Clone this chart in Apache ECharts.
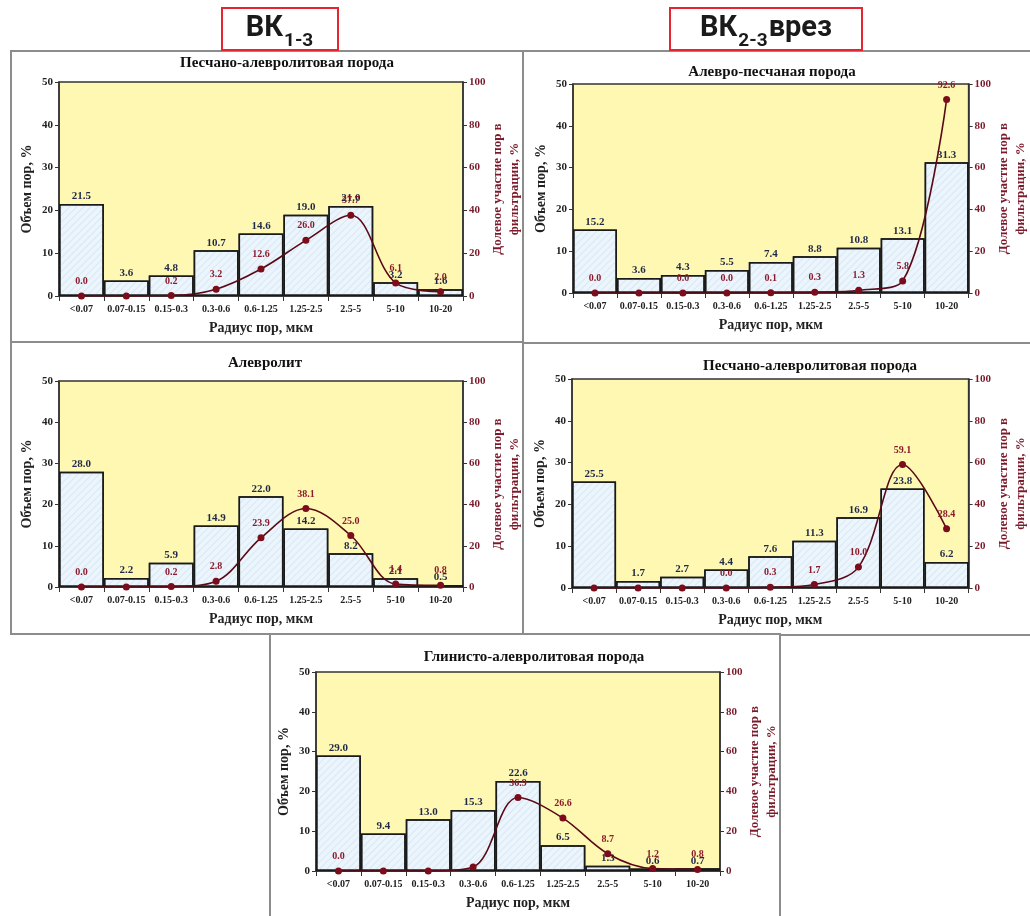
<!DOCTYPE html>
<html>
<head>
<meta charset="utf-8">
<script src="https://cdn.jsdelivr.net/npm/echarts@6/dist/echarts.min.js"></script>
<style>
html,body{margin:0;padding:0;background:#fff;}
#main{width:1030px;height:916px;}
</style>
</head>
<body>
<div id="main"></div>
<script>
// ---------- DATA ----------
const categories = ['<0.07','0.07-0.15','0.15-0.3','0.3-0.6','0.6-1.25','1.25-2.5','2.5-5','5-10','10-20'];

const titles = [
  'Песчано-алевролитовая порода',
  'Алевро-песчаная порода',
  'Алевролит',
  'Песчано-алевролитовая порода',
  'Глинисто-алевролитовая порода'
];

// Объем пор, %
const vol1 = [21.5, 3.6, 4.8, 10.7, 14.6, 19.0, 21.0, 3.2, 1.6];
const vol2 = [15.2, 3.6, 4.3, 5.5, 7.4, 8.8, 10.8, 13.1, 31.3];
const vol3 = [28.0, 2.2, 5.9, 14.9, 22.0, 14.2, 8.2, 2.1, 0.5];
const vol4 = [25.5, 1.7, 2.7, 4.4, 7.6, 11.3, 16.9, 23.8, 6.2];
const vol5 = [29.0, 9.4, 13.0, 15.3, 22.6, 6.5, 1.3, 0.6, 0.7];

// Долевое участие пор в фильтрации, %
const filt1 = [0.0, 0.0, 0.2, 3.2, 12.6, 26.0, 37.7, 6.1, 2.0];
const filt2 = [0.0, 0.0, 0.0, 0.0, 0.1, 0.3, 1.3, 5.8, 92.6];
const filt3 = [0.0, 0.0, 0.2, 2.8, 23.9, 38.1, 25.0, 1.4, 0.8];
const filt4 = [0.0, 0.0, 0.0, 0.0, 0.3, 1.7, 10.0, 59.1, 28.4];
const filt5 = [0.0, 0.0, 0.0, 2.0, 36.9, 26.6, 8.7, 1.2, 0.8];

// indices of filtration points whose value label is not shown in the picture
const unlabeled1 = [1];
const unlabeled2 = [1];
const unlabeled3 = [1];
const unlabeled4 = [0, 1, 2];
const unlabeled5 = [1, 2, 3];

const leftTicks = [0, 10, 20, 30, 40, 50];
const rightTicks = [0, 20, 40, 60, 80, 100];

// header labels: [main, subscript, suffix]
const header1 = ['ВК', '1-3', ''];
const header2 = ['ВК', '2-3', 'врез'];

// ---------- LAYOUT ----------
const grids = [
  {left: 59,  top: 82,  width: 404, height: 214},
  {left: 573, top: 84,  width: 403, height: 209},
  {left: 59,  top: 381, width: 404, height: 206},
  {left: 572, top: 379, width: 404, height: 209},
  {left: 316, top: 672, width: 404, height: 199}
];
const titlePos = [[287, 63], [772, 72], [265, 363], [810, 366], [534, 657]];

const vols = [vol1, vol2, vol3, vol4, vol5];
const filts = [filt1, filt2, filt3, filt4, filt5];
const unl = [unlabeled1, unlabeled2, unlabeled3, unlabeled4, unlabeled5];

const SERIF = '"Liberation Serif","Times New Roman",serif';
const SANS = 'Roboto, "Open Sans", sans-serif';
const LINE_RED = '#7a0c1c';
const AXIS_RED = '#7b1a2b';

const option = {
  animation: false,
  backgroundColor: '#ffffff',
  grid: [], xAxis: [], yAxis: [], series: [], graphic: []
};

grids.forEach((g, i) => {
  option.grid.push(Object.assign({
    show: true, backgroundColor: '#fff8b2', borderColor: '#333', borderWidth: 1.5
  }, g));
  option.xAxis.push({
    type: 'category', gridIndex: i, data: categories,
    axisLine: {lineStyle: {color: '#333', width: 1.5}},
    axisTick: {show: true, length: 5, lineStyle: {color: '#333'}},
    axisLabel: {interval: 0, fontFamily: SERIF, fontWeight: 'bold', fontSize: 10, color: '#222', margin: 8},
    name: 'Радиус пор, мкм', nameLocation: 'middle', nameGap: 25,
    nameTextStyle: {fontFamily: SERIF, fontWeight: 'bold', fontSize: 14, color: '#222'}
  });
  option.yAxis.push({
    type: 'value', gridIndex: i, min: leftTicks[0], max: leftTicks[leftTicks.length - 1], interval: 10,
    position: 'left',
    axisLine: {show: true, lineStyle: {color: '#333', width: 1.5}},
    axisTick: {show: true, length: 4, lineStyle: {color: '#333'}},
    splitLine: {show: false},
    axisLabel: {fontFamily: SERIF, fontWeight: 'bold', fontSize: 11, color: '#222', margin: 6},
    name: 'Объем пор, %', nameLocation: 'middle', nameGap: 25,
    nameTextStyle: {fontFamily: SERIF, fontWeight: 'bold', fontSize: 14, color: '#222'}
  });
  option.yAxis.push({
    type: 'value', gridIndex: i, min: rightTicks[0], max: rightTicks[rightTicks.length - 1], interval: 20,
    position: 'right',
    axisLine: {show: true, lineStyle: {color: '#333', width: 1.5}},
    axisTick: {show: true, length: 4, lineStyle: {color: '#333'}},
    splitLine: {show: false},
    axisLabel: {fontFamily: SERIF, fontWeight: 'bold', fontSize: 11, color: AXIS_RED, margin: 6},
    name: 'Долевое участие пор в\nфильтрации, %', nameLocation: 'middle', nameGap: 26, nameRotate: 90,
    nameTextStyle: {fontFamily: SERIF, fontWeight: 'bold', fontSize: 13, color: AXIS_RED, lineHeight: 17}
  });
  option.series.push({
    type: 'bar', xAxisIndex: i, yAxisIndex: 2 * i,
    data: vols[i], barCategoryGap: '0%', z: 2,
    itemStyle: {
      color: '#edf5fc', borderColor: '#1a1a1a', borderWidth: 1.5,
      decal: {symbol: 'rect', symbolSize: 1, color: 'rgba(170,205,235,0.35)',
              dashArrayX: [1, 0], dashArrayY: [1, 4], rotation: -Math.PI / 4}
    },
    label: {show: true, position: 'top', distance: 2, formatter: p => p.value.toFixed(1),
            fontFamily: SERIF, fontWeight: 'bold', fontSize: 11, color: '#1f2a4a'}
  });
  option.series.push({
    type: 'line', xAxisIndex: i, yAxisIndex: 2 * i + 1, z: 5,
    data: filts[i].map((v, k) => unl[i].indexOf(k) >= 0 ? {value: v, label: {show: false}} : v),
    smooth: 0.35, symbol: 'circle', symbolSize: 7,
    itemStyle: {color: LINE_RED},
    lineStyle: {color: '#5a0a16', width: 1.6},
    label: {show: true, position: 'top', distance: 6, formatter: p => p.value.toFixed(1),
            fontFamily: SERIF, fontWeight: 'bold', fontSize: 10, color: '#8b1a2b'}
  });
  option.graphic.push({
    type: 'text', x: titlePos[i][0], y: titlePos[i][1], z: 10,
    style: {text: titles[i], align: 'center', verticalAlign: 'middle',
            fontFamily: SERIF, fontWeight: 'bold', fontSize: 15, fill: '#111'}
  });
});

// panel frames
const GREY = '#8c8c8c';
option.graphic.push(
  {type: 'rect', shape: {x: 11, y: 51, width: 512, height: 583}, style: {fill: 'none', stroke: GREY, lineWidth: 2}},
  {type: 'line', shape: {x1: 11, y1: 342, x2: 523, y2: 342}, style: {stroke: GREY, lineWidth: 2}},
  {type: 'line', shape: {x1: 523, y1: 51, x2: 1030, y2: 51}, style: {stroke: GREY, lineWidth: 2}},
  {type: 'line', shape: {x1: 523, y1: 343, x2: 1030, y2: 343}, style: {stroke: GREY, lineWidth: 2}},
  {type: 'line', shape: {x1: 780, y1: 635, x2: 1030, y2: 635}, style: {stroke: GREY, lineWidth: 2}},
  {type: 'rect', shape: {x: 270, y: 634, width: 510, height: 300}, style: {fill: 'none', stroke: GREY, lineWidth: 2}}
);

// headers with subscripts
const ctx = document.createElement('canvas').getContext('2d');
function tw(t, size) { ctx.font = 'bold ' + size + 'px ' + SANS; return ctx.measureText(t).width; }
function addHeader(h, boxX, boxW) {
  const MAIN = 29, SUB = 19;
  const total = tw(h[0], MAIN) + tw(h[1], SUB) + tw(h[2], MAIN) + 2;
  let x = boxX + (boxW - total) / 2;
  option.graphic.push({type: 'rect', z: 20, shape: {x: boxX, y: 8, width: boxW, height: 42},
                       style: {fill: '#fff', stroke: '#e52530', lineWidth: 2}});
  option.graphic.push({type: 'text', z: 21, x: x, y: 14,
    style: {text: h[0], verticalAlign: 'top', fontFamily: SANS, fontWeight: 'bold', fontSize: MAIN, fill: '#1a1a1a'}});
  x += tw(h[0], MAIN) + 1;
  option.graphic.push({type: 'text', z: 21, x: x, y: 32,
    style: {text: h[1], verticalAlign: 'top', fontFamily: SANS, fontWeight: 'bold', fontSize: SUB, fill: '#1a1a1a'}});
  x += tw(h[1], SUB) + 1;
  if (h[2]) option.graphic.push({type: 'text', z: 21, x: x, y: 14,
    style: {text: h[2], verticalAlign: 'top', fontFamily: SANS, fontWeight: 'bold', fontSize: MAIN, fill: '#1a1a1a'}});
}
addHeader(header1, 222, 116);
addHeader(header2, 670, 192);

const chart = echarts.init(document.getElementById('main'), null, {renderer: 'canvas'});
chart.setOption(option);
</script>
</body>
</html>
